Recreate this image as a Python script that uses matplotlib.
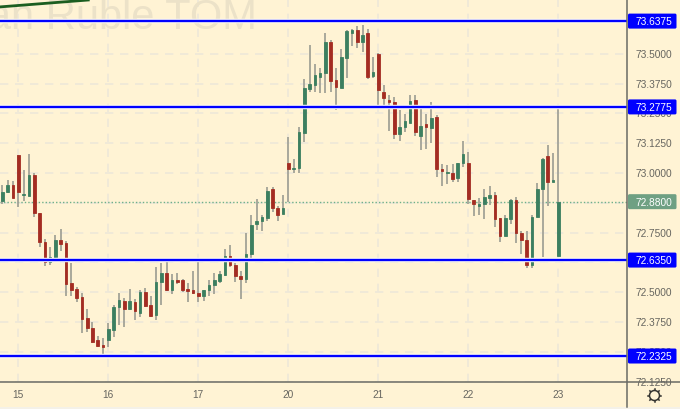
import matplotlib
matplotlib.use('Agg')
import matplotlib.pyplot as plt
from matplotlib.patches import FancyBboxPatch, Circle, Rectangle

opens = [72.883,72.921,72.950,73.076,72.908,72.904,72.992,72.832,72.711,72.627,72.648,72.719,72.707,72.539,72.514,72.480,72.392,72.350,72.300,72.279,
         72.300,72.342,72.438,72.463,72.430,72.459,72.413,72.501,72.447,72.405,72.543,72.581,72.509,72.551,72.551,72.514,72.509,72.497,72.484,72.509,
         72.530,72.547,72.572,72.652,72.614,72.568,72.556,72.660,72.786,72.799,72.811,72.933,72.853,72.828,73.042,73.017,73.021,73.168,73.353,73.369,
         73.403,73.420,73.550,73.390,73.357,73.483,73.587,73.600,73.550,73.587,73.407,73.499,73.340,73.306,73.298,73.164,73.193,73.210,73.306,73.155,
         73.206,73.189,73.235,73.017,73.000,73.000,72.979,73.042,73.042,72.887,72.862,72.870,72.895,72.908,72.811,72.736,72.807,72.887,72.749,72.719,
         72.614,72.816,72.933,73.072,72.962,72.652]
highs = [72.950,72.971,72.967,73.076,73.013,73.080,73.000,72.832,72.723,72.690,72.740,72.765,72.715,72.623,72.522,72.497,72.430,72.375,72.316,72.308,
         72.371,72.447,72.497,72.476,72.514,72.472,72.509,72.518,72.484,72.606,72.623,72.627,72.577,72.581,72.556,72.539,72.589,72.635,72.509,72.551,
         72.581,72.589,72.681,72.698,72.623,72.589,72.749,72.824,72.891,72.824,72.941,72.941,72.862,72.908,73.151,73.059,73.193,73.395,73.537,73.457,
         73.441,73.587,73.558,73.441,73.520,73.600,73.604,73.617,73.621,73.604,73.487,73.504,73.369,73.327,73.319,73.265,73.248,73.327,73.327,73.277,
         73.248,73.298,73.244,73.038,73.034,73.038,73.042,73.134,73.088,72.887,72.895,72.933,72.946,72.921,72.811,72.824,72.891,72.900,72.757,72.757,
         72.824,72.958,73.063,73.118,73.084,73.269]
lows = [72.870,72.916,72.895,72.858,72.883,72.904,72.816,72.690,72.610,72.614,72.627,72.673,72.484,72.484,72.459,72.329,72.333,72.287,72.270,72.241,
        72.270,72.312,72.363,72.354,72.426,72.384,72.396,72.438,72.396,72.384,72.447,72.505,72.493,72.535,72.501,72.459,72.493,72.459,72.463,72.484,
        72.493,72.539,72.568,72.606,72.543,72.472,72.539,72.644,72.761,72.757,72.799,72.837,72.799,72.828,72.879,73.000,73.000,73.130,73.340,73.340,
        73.336,73.336,73.340,73.265,73.357,73.399,73.533,73.525,73.508,73.395,73.399,73.277,73.277,73.176,73.143,73.134,73.172,73.210,73.155,73.097,
        73.101,73.126,72.983,72.946,72.954,72.962,72.962,73.025,72.870,72.820,72.824,72.807,72.866,72.774,72.711,72.736,72.786,72.707,72.660,72.602,
        72.602,72.816,72.648,72.862,72.962,72.652]
closes = [72.921,72.950,72.895,72.921,72.912,72.992,72.832,72.711,72.627,72.648,72.719,72.702,72.535,72.509,72.476,72.388,72.350,72.291,72.274,72.270,
          72.346,72.438,72.467,72.430,72.463,72.421,72.501,72.442,72.400,72.543,72.581,72.509,72.551,72.543,72.509,72.505,72.497,72.484,72.509,72.530,
          72.551,72.577,72.652,72.614,72.568,72.556,72.660,72.782,72.799,72.816,72.925,72.853,72.824,72.853,73.017,73.021,73.172,73.357,73.374,73.411,
          73.420,73.550,73.386,73.361,73.487,73.596,73.600,73.550,73.579,73.403,73.424,73.348,73.315,73.298,73.164,73.193,73.218,73.302,73.172,73.197,
          73.193,73.231,73.017,73.009,73.004,72.975,73.042,73.080,72.891,72.870,72.870,72.900,72.908,72.807,72.736,72.811,72.887,72.749,72.719,72.614,
          72.816,72.933,73.059,72.962,72.971,72.880]

level_prices = [73.6375, 73.2775, 72.6350, 72.2325]
level_labels = ['73.6375', '73.2775', '72.6350', '72.2325']
last_price = 72.88
last_label = '72.8800'
y_ticks = [73.5, 73.375, 73.25, 73.125, 73.0, 72.75, 72.5, 72.375, 72.25, 72.125]
y_tick_labels = ['73.5000', '73.3750', '73.2500', '73.1250', '73.0000', '72.7500', '72.5000', '72.3750', '72.2500', '72.1250']
y_grid = [73.5, 73.375, 73.25, 73.125, 73.0, 72.875, 72.75, 72.625, 72.5, 72.375, 72.25, 72.125]
day_index = [3, 20, 37, 54, 71, 88, 105]
day_labels = ['15', '16', '17', '20', '21', '22', '23']
trend_x = [-0.5, 16.2]
trend_y = [73.697, 73.726]

bg = '#FFF3D4'
up = '#3C7F60'
down = '#A42C22'
wick = '#A3A397'
blue = '#0000FF'
grid = '#EEE8D8'
axis_col = '#6A6A64'
text_col = '#66655F'
font = 'Liberation Sans'

fig = plt.figure(figsize=(6.8, 4.1), dpi=100, facecolor='#F4F1E8')
# background that stops short of the bottom edge
ov = fig.add_axes([0, 0, 1, 1], zorder=0)
ov.set_xlim(0, 680)
ov.set_ylim(410, 0)
ov.axis('off')
ov.add_patch(Rectangle((0, 0), 680, 408, fc=bg, ec='none'))

ax = fig.add_axes([0, 27/410, 627/680, 383/410], zorder=1)
ax.patch.set_alpha(0)
ax.set_xlim(-0.472, 117.96)
ax.set_ylim(72.1235, 73.7302)
for s in ['top', 'left', 'right', 'bottom']:
    ax.spines[s].set_visible(False)
ax.set_xticks([])
ax.set_yticks([])

for x in day_index:
    ax.axvline(x, color=grid, lw=1.2, ls=(0, (5, 4)), zorder=1)
for y in y_grid:
    ax.axhline(y, color=grid, lw=1.2, ls=(0, (5, 4)), zorder=1)

ax.text(48.1, 73.608, 'Russian Ruble TOM', fontsize=30, family=font, color='#ECE2C8',
        ha='right', va='baseline', zorder=1)

ax.axhline(last_price, color='#6FB089', lw=1, ls=(0, (1, 1.5)), zorder=2)

for i in range(len(opens)):
    col = up if closes[i] >= opens[i] else down
    ax.plot([i, i], [lows[i], highs[i]], color=wick, lw=1.3, zorder=3, solid_capstyle='butt')
    top = max(opens[i], closes[i])
    bot = min(opens[i], closes[i])
    ax.bar(i, top - bot, bottom=bot, width=0.5, color=col, edgecolor=col, linewidth=0.6, zorder=4)

for p in level_prices:
    ax.axhline(p, color='#FFFDF5', lw=3.2, zorder=5)
    ax.axhline(p, color=blue, lw=1.7, zorder=6)

ax.plot(trend_x, trend_y, color='#1B5E20', lw=2, zorder=6)

# price and time axis
top = fig.add_axes([0, 0, 1, 1], zorder=2)
top.set_xlim(0, 680)
top.set_ylim(410, 0)
top.axis('off')
top.patch.set_alpha(0)
top.plot([627, 627], [0, 408], color=axis_col, lw=1.1)
top.plot([0, 680], [383, 383], color=axis_col, lw=1.1)


def ypix(p):
    return 410 - ax.transData.transform((0, p))[1]


def xpix(i):
    return ax.transData.transform((i, 0))[0]


def pill(p, label, col):
    y = ypix(p)
    top.add_patch(FancyBboxPatch((628, y - 7.5), 48.5, 15, boxstyle='round,pad=0,rounding_size=1.5',
                                 fc=col, ec='none', zorder=4))
    top.text(654, y + 0.2, label, color='white', fontsize=7.3, family=font,
             ha='center', va='center', zorder=5)


for p, lab in zip(y_ticks, y_tick_labels):
    top.text(654, ypix(p), lab, color=text_col, fontsize=7.3, family=font, ha='center', va='center', zorder=2)
for i, lab in zip(day_index, day_labels):
    top.text(xpix(i), 395.5, lab, color=text_col, fontsize=7.3, family=font, ha='center', va='center', zorder=2)

for p, lab in zip(level_prices, level_labels):
    pill(p, lab, blue)
pill(last_price, last_label, '#6FA083')

# settings gear
top.add_patch(Circle((654.5, 396.5), 5, fc='none', ec='#33332F', lw=1.1, zorder=3))
for dx, dy in [(0, -6.5), (0, 6.5), (-6.5, 0), (6.5, 0), (-4.6, -4.6), (4.6, -4.6), (-4.6, 4.6), (4.6, 4.6)]:
    top.plot([654.5 + dx * 0.85, 654.5 + dx], [396.5 + dy * 0.85, 396.5 + dy], color='#33332F', lw=1.1, zorder=3)

fig.savefig('out.png', dpi=100, facecolor=fig.get_facecolor())
